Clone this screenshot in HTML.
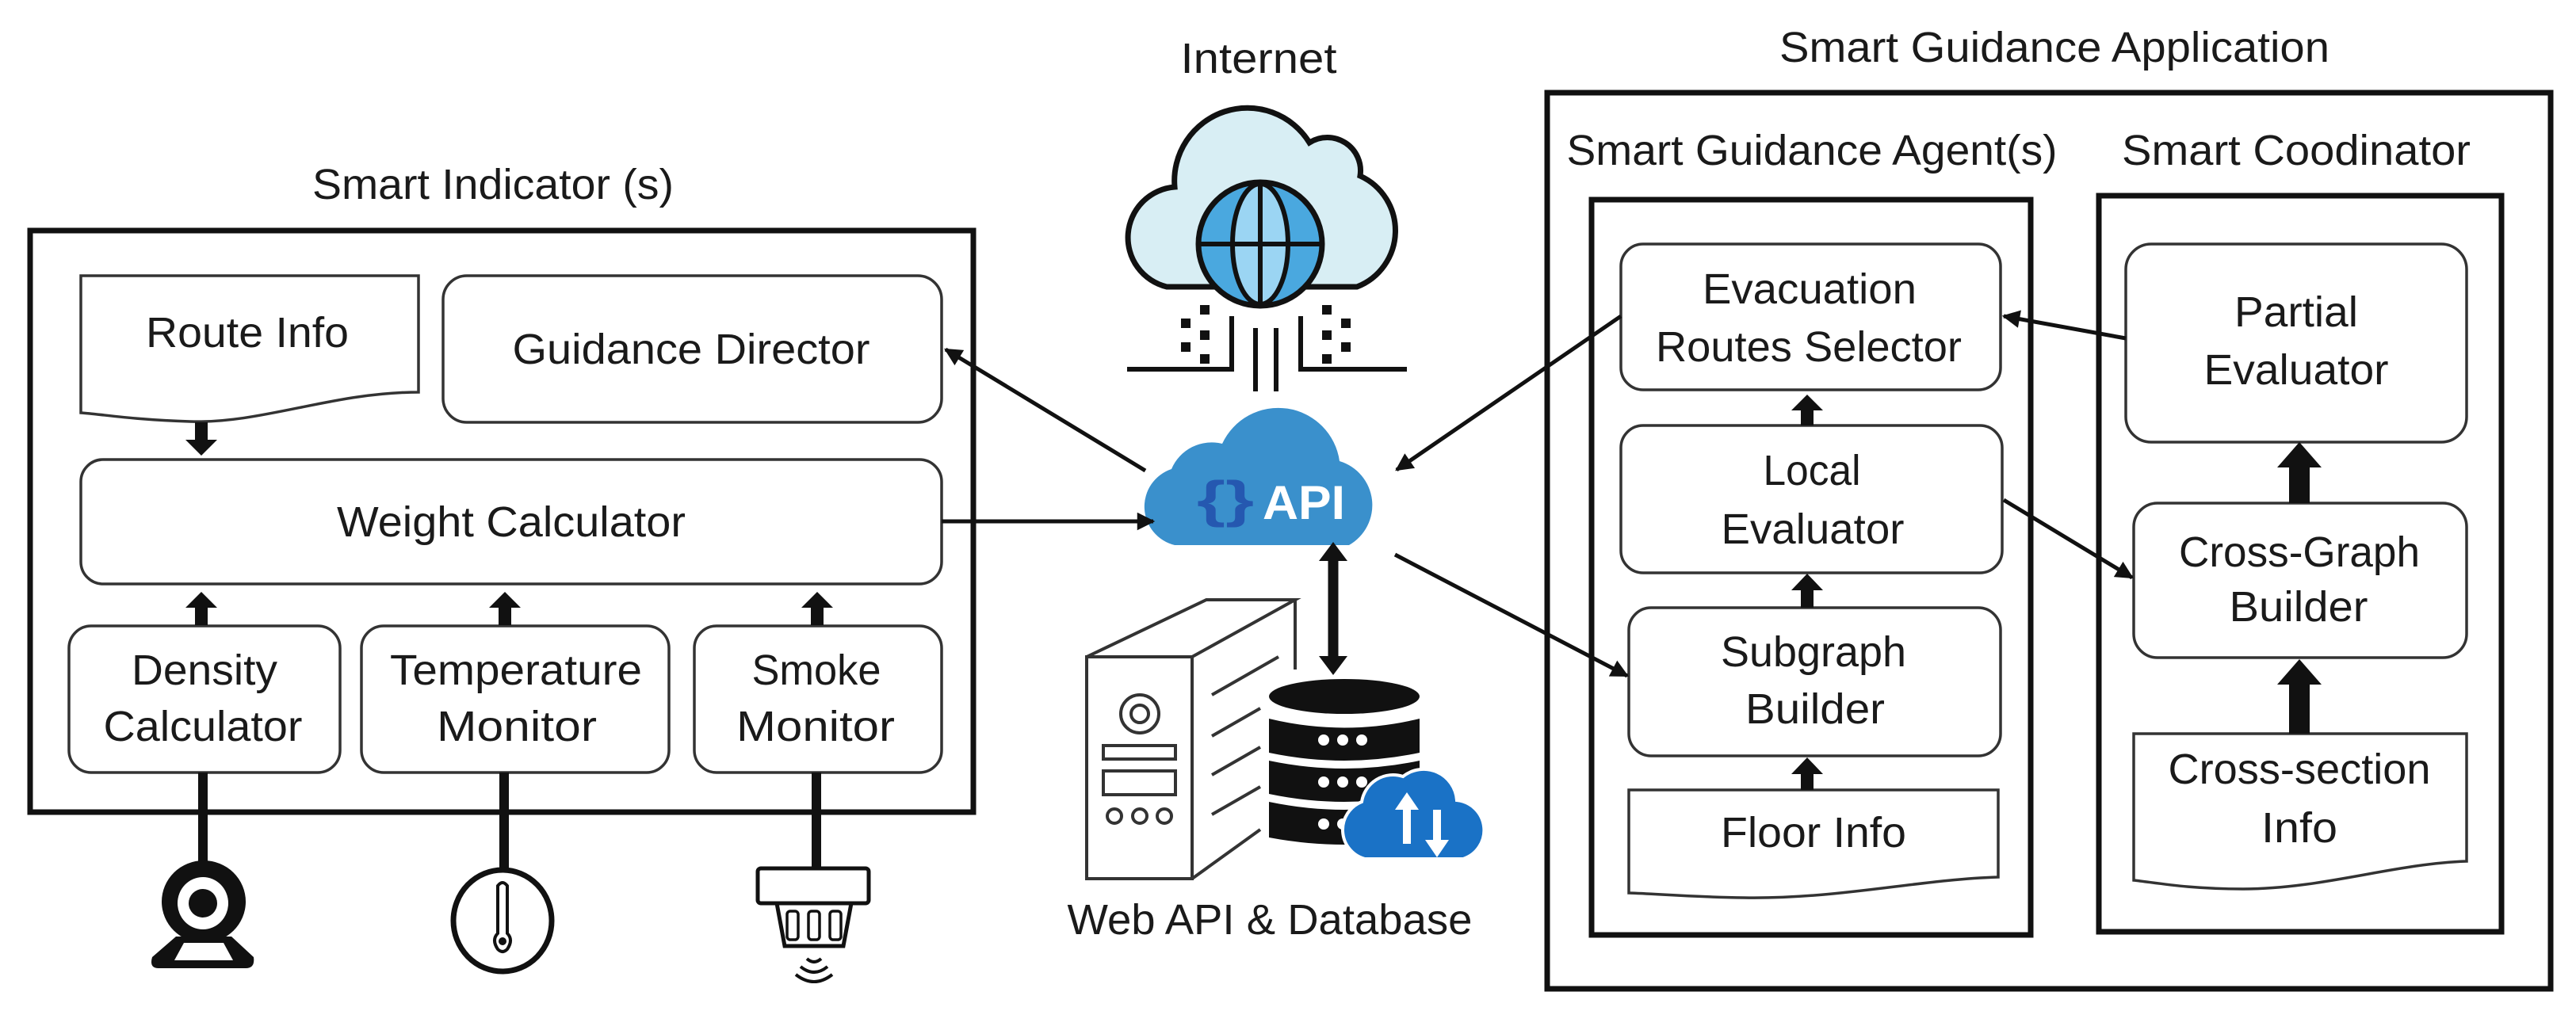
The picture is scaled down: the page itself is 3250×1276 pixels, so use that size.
<!DOCTYPE html>
<html><head><meta charset="utf-8"><style>html,body{margin:0;padding:0;background:#fff}svg{display:block}</style></head>
<body>
<svg width="3250" height="1276" viewBox="0 0 3250 1276" xmlns="http://www.w3.org/2000/svg">
<defs>
<marker id="ah" viewBox="0 0 10 10" refX="9" refY="5" markerWidth="5" markerHeight="4.5" orient="auto" markerUnits="strokeWidth"><path d="M0,0 L10,5 L0,10 Z" fill="#111"/></marker>
</defs>
<g font-family="'Liberation Sans', sans-serif" font-size="54" fill="#1a1a1a" text-anchor="middle">

<text x="622" y="251" textLength="456" lengthAdjust="spacingAndGlyphs">Smart Indicator (s)</text>
<text x="1588" y="92" textLength="197" lengthAdjust="spacingAndGlyphs">Internet</text>
<text x="2592" y="78" textLength="694" lengthAdjust="spacingAndGlyphs">Smart Guidance Application</text>
<text x="2286" y="208" textLength="619" lengthAdjust="spacingAndGlyphs">Smart Guidance Agent(s)</text>
<text x="2897" y="208" textLength="440" lengthAdjust="spacingAndGlyphs">Smart Coodinator</text>
<text x="1602" y="1179" textLength="511" lengthAdjust="spacingAndGlyphs">Web API &amp; Database</text>

<rect x="38" y="291" width="1190" height="734" fill="none" stroke="#111" stroke-width="7"/>
<path d="M102,348 H528 V495 C420,495 330,535 240,532 C170,530 130,523 102,521 Z" fill="#fff" stroke="#333" stroke-width="3.5"/>
<text x="312" y="438" textLength="256" lengthAdjust="spacingAndGlyphs">Route Info</text>
<rect x="559" y="348" width="629" height="185" rx="30" fill="#fff" stroke="#333" stroke-width="3.5"/>
<text x="872" y="459" textLength="451" lengthAdjust="spacingAndGlyphs">Guidance Director</text>
<rect x="102" y="580" width="1086" height="157" rx="28" fill="#fff" stroke="#333" stroke-width="3.5"/>
<text x="645" y="677" textLength="440" lengthAdjust="spacingAndGlyphs">Weight Calculator</text>
<rect x="87" y="790" width="342" height="185" rx="28" fill="#fff" stroke="#333" stroke-width="3.5"/>
<text x="258" y="864" textLength="184" lengthAdjust="spacingAndGlyphs">Density</text>
<text x="256" y="935" textLength="251" lengthAdjust="spacingAndGlyphs">Calculator</text>
<rect x="456" y="790" width="388" height="185" rx="28" fill="#fff" stroke="#333" stroke-width="3.5"/>
<text x="651" y="864" textLength="318" lengthAdjust="spacingAndGlyphs">Temperature</text>
<text x="652" y="935" textLength="202" lengthAdjust="spacingAndGlyphs">Monitor</text>
<rect x="876" y="790" width="312" height="185" rx="28" fill="#fff" stroke="#333" stroke-width="3.5"/>
<text x="1030" y="864" textLength="163" lengthAdjust="spacingAndGlyphs">Smoke</text>
<text x="1029" y="935" textLength="200" lengthAdjust="spacingAndGlyphs">Monitor</text>

<polygon points="246,533 262,533 262,555 274,555 254,575 234,555 246,555" fill="#111"/>
<polygon points="246,789 262,789 262,767 274,767 254,747 234,767 246,767" fill="#111"/>
<polygon points="629,789 645,789 645,767 657,767 637,747 617,767 629,767" fill="#111"/>
<polygon points="1023,789 1039,789 1039,767 1051,767 1031,747 1011,767 1023,767" fill="#111"/>

<line x1="256" y1="975" x2="256" y2="1092" stroke="#111" stroke-width="12"/>
<line x1="636" y1="975" x2="636" y2="1098" stroke="#111" stroke-width="12"/>
<line x1="1030" y1="975" x2="1030" y2="1100" stroke="#111" stroke-width="12"/>

<ellipse cx="257" cy="1138" rx="53" ry="52" fill="#111"/>
<ellipse cx="256" cy="1140" rx="32" ry="33" fill="#fff"/>
<ellipse cx="256" cy="1140" rx="18" ry="18" fill="#111"/>
<path d="M222,1182 L292,1182 L320,1208 Q322,1222 310,1222 L200,1222 Q188,1222 192,1208 Z" fill="#111"/>
<path d="M232,1190 L282,1190 L294,1212 L220,1212 Z" fill="#fff"/>
<ellipse cx="634" cy="1162" rx="62" ry="64" fill="#fff" stroke="#111" stroke-width="7"/>
<path d="M628,1118 Q634,1110 640,1118 L640,1178 Q648,1186 640,1198 Q634,1204 628,1198 Q620,1186 628,1178 Z" fill="#fff" stroke="#111" stroke-width="4"/>
<circle cx="634" cy="1188" r="5" fill="#111"/>
<rect x="956" y="1096" width="140" height="44" rx="4" fill="#fff" stroke="#111" stroke-width="5"/>
<path d="M980,1140 L1074,1140 L1064,1194 L990,1194 Z" fill="#fff" stroke="#111" stroke-width="5"/>
<rect x="993" y="1150" width="14" height="36" rx="4" fill="none" stroke="#111" stroke-width="3.5"/>
<rect x="1020" y="1150" width="14" height="36" rx="4" fill="none" stroke="#111" stroke-width="3.5"/>
<rect x="1047" y="1150" width="14" height="36" rx="4" fill="none" stroke="#111" stroke-width="3.5"/>
<path d="M1018,1210 Q1027,1218 1036,1210 M1010,1220 Q1027,1234 1044,1220 M1004,1230 Q1027,1248 1050,1230" fill="none" stroke="#111" stroke-width="4"/>

<path d="M1472,362 A64,64 0 0 1 1482,236 A92,92 0 0 1 1652,180 A42,42 0 0 1 1716,222 A76,76 0 0 1 1712,362 Z" fill="#d8eef4" stroke="#111" stroke-width="7"/>
<circle cx="1590" cy="308" r="78" fill="#4aa8df" stroke="#111" stroke-width="7"/>
<ellipse cx="1590" cy="308" rx="35" ry="76" fill="#9bd5f3" stroke="#111" stroke-width="6"/>
<line x1="1512" y1="308" x2="1668" y2="308" stroke="#111" stroke-width="6"/>
<line x1="1590" y1="231" x2="1590" y2="386" stroke="#111" stroke-width="6"/>
<path d="M1422,466 H1554 V399" fill="none" stroke="#111" stroke-width="6"/>
<path d="M1775,466 H1641 V399" fill="none" stroke="#111" stroke-width="6"/>
<line x1="1584" y1="414" x2="1584" y2="494" stroke="#111" stroke-width="6"/>
<line x1="1610" y1="414" x2="1610" y2="494" stroke="#111" stroke-width="6"/>
<g fill="#111">
<rect x="1514" y="385" width="12" height="12"/><rect x="1490" y="402" width="12" height="12"/><rect x="1514" y="417" width="12" height="12"/><rect x="1490" y="432" width="12" height="12"/><rect x="1514" y="447" width="12" height="12"/>
<rect x="1668" y="385" width="12" height="12"/><rect x="1692" y="402" width="12" height="12"/><rect x="1668" y="417" width="12" height="12"/><rect x="1692" y="432" width="12" height="12"/><rect x="1668" y="447" width="12" height="12"/>
</g>

<path d="M1482,688 A50,50 0 0 1 1478,592 A55,55 0 0 1 1542,560 A78,78 0 0 1 1690,582 A58,58 0 0 1 1702,688 Z" fill="#3a90cc"/>
<text x="1546" y="652" font-size="64" font-weight="bold" fill="#2558b0" textLength="72" lengthAdjust="spacingAndGlyphs">{}</text>
<text x="1645" y="655" font-size="60" font-weight="bold" fill="#fff" textLength="104" lengthAdjust="spacingAndGlyphs">API</text>

<g fill="none" stroke="#333" stroke-width="4">
<rect x="1371" y="829" width="133" height="280"/>
<path d="M1371,829 L1522,757 H1634 L1504,829"/>
<line x1="1634" y1="757" x2="1634" y2="845"/>
<line x1="1529" y1="877" x2="1613" y2="829"/>
<line x1="1529" y1="929" x2="1590" y2="894"/>
<line x1="1529" y1="978" x2="1590" y2="943"/>
<line x1="1529" y1="1028" x2="1590" y2="993"/>
<line x1="1504" y1="1109" x2="1590" y2="1047"/>
<circle cx="1438" cy="901" r="24"/><circle cx="1438" cy="901" r="11"/>
<rect x="1392" y="941" width="91" height="17"/>
<rect x="1392" y="973" width="91" height="30"/>
<circle cx="1406" cy="1030" r="9"/><circle cx="1438" cy="1030" r="9"/><circle cx="1469" cy="1030" r="9"/>
</g>
<g fill="#111">
<ellipse cx="1696" cy="879" rx="95" ry="22"/>
<path d="M1601,907 Q1696,930 1791,907 V950 Q1696,970 1601,950 Z"/>
<path d="M1601,960 Q1696,980 1791,960 V1002 Q1696,1022 1601,1002 Z"/>
<path d="M1601,1012 Q1696,1032 1791,1012 V1057 Q1696,1075 1601,1057 Z"/>
</g>
<g fill="#fff"><circle cx="1670" cy="934" r="7"/><circle cx="1694" cy="934" r="7"/><circle cx="1718" cy="934" r="7"/>
<circle cx="1670" cy="987" r="7"/><circle cx="1694" cy="987" r="7"/><circle cx="1718" cy="987" r="7"/>
<circle cx="1670" cy="1040" r="7"/><circle cx="1694" cy="1040" r="7"/></g>
<path d="M1722,1084 A38,38 0 0 1 1718,1012 A40,40 0 0 1 1770,980 A42,42 0 0 1 1838,1010 A38,38 0 0 1 1846,1084 Z" fill="#1a72c6" stroke="#fff" stroke-width="4"/>
<path d="M1770,1065 V1022 H1760 L1775,1000 L1790,1022 H1780 V1065 Z" fill="#fff"/>
<path d="M1808,1022 V1060 H1798 L1813,1082 L1828,1060 H1818 V1022 Z" fill="#fff"/>

<line x1="1682" y1="704" x2="1682" y2="832" stroke="#111" stroke-width="13"/>
<polygon points="1664,708 1682,684 1700,708" fill="#111"/>
<polygon points="1664,828 1682,852 1700,828" fill="#111"/>

<rect x="1952" y="117" width="1266" height="1131" fill="none" stroke="#111" stroke-width="7"/>
<rect x="2008" y="252" width="554" height="928" fill="none" stroke="#111" stroke-width="7"/>
<rect x="2648" y="247" width="508" height="929" fill="none" stroke="#111" stroke-width="7"/>

<rect x="2045" y="308" width="479" height="184" rx="28" fill="#fff" stroke="#333" stroke-width="3.5"/>
<text x="2283" y="383" textLength="270" lengthAdjust="spacingAndGlyphs">Evacuation</text>
<text x="2282" y="456" textLength="386" lengthAdjust="spacingAndGlyphs">Routes Selector</text>
<rect x="2045" y="537" width="481" height="186" rx="28" fill="#fff" stroke="#333" stroke-width="3.5"/>
<text x="2286" y="612" textLength="123" lengthAdjust="spacingAndGlyphs">Local</text>
<text x="2287" y="686" textLength="231" lengthAdjust="spacingAndGlyphs">Evaluator</text>
<rect x="2055" y="767" width="469" height="187" rx="28" fill="#fff" stroke="#333" stroke-width="3.5"/>
<text x="2288" y="841" textLength="234" lengthAdjust="spacingAndGlyphs">Subgraph</text>
<text x="2290" y="913" textLength="176" lengthAdjust="spacingAndGlyphs">Builder</text>
<path d="M2055,997 H2521 V1107 C2420,1110 2320,1135 2200,1133 C2130,1132 2090,1128 2055,1127 Z" fill="#fff" stroke="#333" stroke-width="3.5"/>
<text x="2288" y="1069" textLength="234" lengthAdjust="spacingAndGlyphs">Floor Info</text>

<rect x="2682" y="308" width="430" height="250" rx="32" fill="#fff" stroke="#333" stroke-width="3.5"/>
<text x="2897" y="412" textLength="156" lengthAdjust="spacingAndGlyphs">Partial</text>
<text x="2897" y="485" textLength="233" lengthAdjust="spacingAndGlyphs">Evaluator</text>
<rect x="2692" y="635" width="420" height="195" rx="30" fill="#fff" stroke="#333" stroke-width="3.5"/>
<text x="2901" y="715" textLength="304" lengthAdjust="spacingAndGlyphs">Cross-Graph</text>
<text x="2900" y="784" textLength="175" lengthAdjust="spacingAndGlyphs">Builder</text>
<path d="M2692,926 H3112 V1087 C3020,1090 2930,1122 2830,1122 C2760,1122 2720,1114 2692,1111 Z" fill="#fff" stroke="#333" stroke-width="3.5"/>
<text x="2901" y="989" textLength="331" lengthAdjust="spacingAndGlyphs">Cross-section</text>
<text x="2901" y="1063" textLength="96" lengthAdjust="spacingAndGlyphs">Info</text>

<polygon points="2272,537 2288,537 2288,518 2300,518 2280,498 2260,518 2272,518" fill="#111"/>
<polygon points="2272,767 2288,767 2288,745 2300,745 2280,724 2260,745 2272,745" fill="#111"/>
<polygon points="2272,997 2288,997 2288,977 2300,977 2280,956 2260,977 2272,977" fill="#111"/>
<polygon points="2888,635 2914,635 2914,590 2929,590 2901,558 2873,590 2888,590" fill="#111"/>
<polygon points="2888,926 2914,926 2914,864 2929,864 2901,832 2873,864 2888,864" fill="#111"/>

<g stroke="#111" stroke-width="5" fill="none" marker-end="url(#ah)">
<line x1="1445" y1="594" x2="1193" y2="441"/>
<line x1="1188" y1="658" x2="1455" y2="658"/>
<line x1="1760" y1="700" x2="2053" y2="853"/>
<line x1="2045" y1="399" x2="1762" y2="593"/>
<line x1="2682" y1="427" x2="2528" y2="399"/>
<line x1="2528" y1="631" x2="2690" y2="729"/>
</g>
</g>
</svg>
</body></html>
